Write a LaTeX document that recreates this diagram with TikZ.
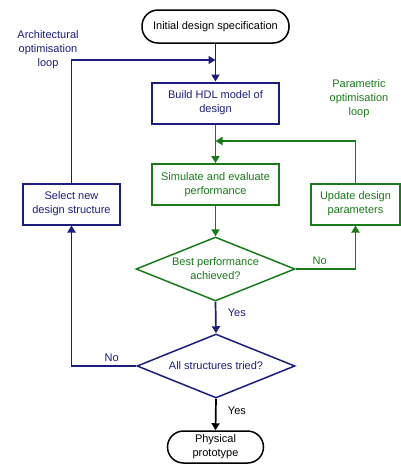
\documentclass[tikz,border=0pt]{standalone}
\usepackage{fontspec}
\setmainfont{Liberation Sans}
\usepackage{tikz}
\usetikzlibrary{shapes.geometric, arrows.meta, positioning}
\definecolor{archnavy}{HTML}{1C1C7E}
\definecolor{paramgreen}{HTML}{187A18}

\begin{document}
\begin{tikzpicture}[x=1pt, y=-1pt,
    every node/.style={font=\fontsize{11}{14}\selectfont},
    flowline/.style={line width=1.7pt, -{Triangle[length=7pt,width=8pt]}},
    procbox/.style={draw, line width=2pt, align=center, minimum height=41pt},
    endbox/.style={draw=black, line width=1.5pt, rounded corners=16pt, align=center},
    decision/.style={draw, diamond, line width=1.5pt, aspect=2.5, inner sep=0pt,
                     align=center, minimum width=158pt, minimum height=64pt}]
    \useasboundingbox (0,0) rectangle (401,464);

    % start and end
    \node[endbox, minimum width=147pt, minimum height=33pt] (spec) at (215.5,26.5)
        {Initial design specification};
    \node[endbox, minimum width=96pt, minimum height=32pt] (proto) at (215.5,447)
        {Physical\\prototype};

    % process boxes
    \node[procbox, draw=archnavy, text=archnavy, minimum width=127pt] (build) at (215.5,103)
        {Build HDL model of\\design};
    \node[procbox, draw=paramgreen, text=paramgreen, minimum width=127pt] (sim) at (215.5,184.5)
        {Simulate and evaluate\\performance};
    \node[procbox, draw=paramgreen, text=paramgreen, minimum width=89pt] (upd) at (355.5,204)
        {Update design\\parameters};
    \node[procbox, draw=archnavy, text=archnavy, minimum width=97pt] (sel) at (71.5,204)
        {Select new\\design structure};

    % decisions
    \node[decision, draw=paramgreen, text=paramgreen, minimum width=159pt] (best) at (215.5,269)
        {Best performance\\achieved?};
    \node[decision, draw=archnavy, text=archnavy] (tried) at (216,366)
        {All structures tried?};

    % loop labels
    \node[text=archnavy, align=center] (archlbl) at (48,50)
        {Architectural\\optimisation\\loop};
    \node[text=paramgreen, align=center] (paramlbl) at (359,99)
        {Parametric\\optimisation\\loop};

    \coordinate (archjoin) at (215.5,60);
    \coordinate (paramjoin) at (215.5,141);

    % connectors
    \draw[flowline, archnavy] (spec) -- (build);
    \draw[flowline, archnavy] (sel.north) |- (archjoin);
    \draw[flowline, paramgreen] (build) -- (sim);
    \draw[flowline, paramgreen] (upd.north) |- (paramjoin);
    \draw[flowline, paramgreen] (sim) -- (best);
    \draw[flowline, paramgreen] (best.east) -| node[pos=0.2, above] {No} (upd.south);
    \draw[flowline, archnavy] (best.south) -- node[pos=0.35, right=8pt] {Yes} (tried.north);
    \draw[flowline, archnavy] (tried.west) -| node[pos=0.19, above] {No} (sel.south);
    \draw[flowline, black] (tried.south) -- node[pos=0.37, right=8pt] {Yes} (proto.north);
\end{tikzpicture}
\end{document}
